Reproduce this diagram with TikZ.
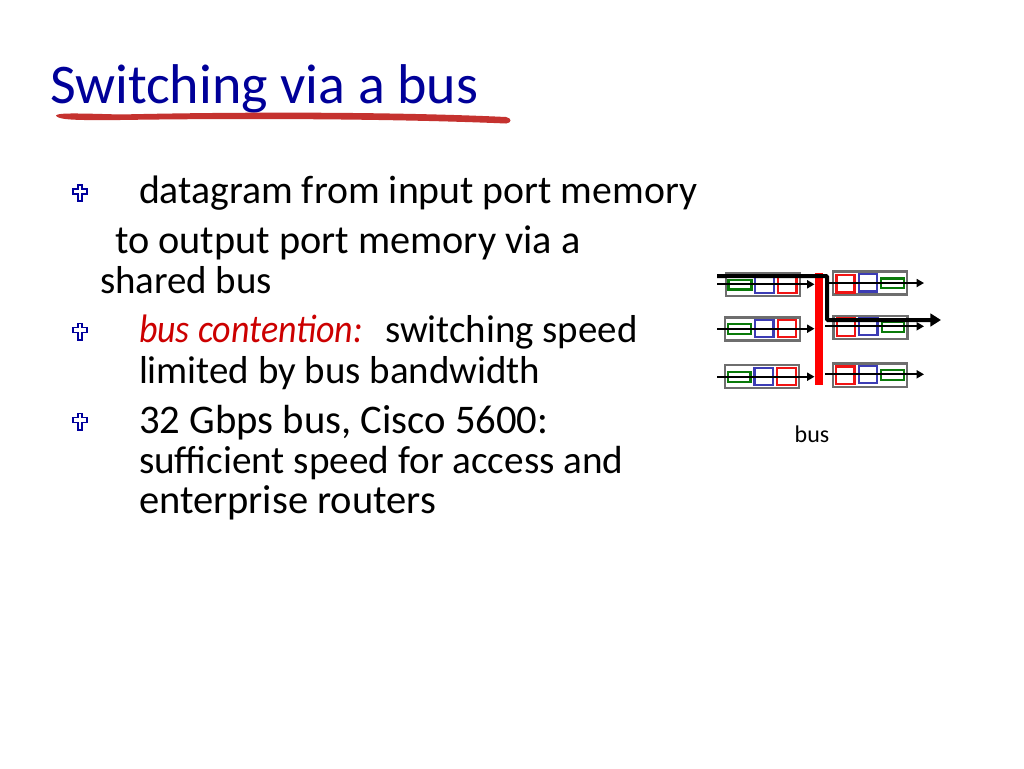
\documentclass[tikz,border=0pt]{standalone}
\usepackage{fontspec}
\setmainfont{Carlito}
\usetikzlibrary{arrows.meta}
\definecolor{titleblue}{HTML}{000099}
\definecolor{brush}{HTML}{C5322F}
\definecolor{boxgray}{HTML}{6E6E6E}
\definecolor{qgreen}{HTML}{0A7A0A}
\definecolor{qblue}{HTML}{3C3CB4}
\definecolor{qred}{HTML}{F01414}
\definecolor{busred}{HTML}{FF0000}
\definecolor{crossblue}{HTML}{00009C}
\definecolor{emred}{HTML}{CC0000}
\newfontfamily\emfont[FakeStretch=0.905]{Carlito}
\tikzset{
  x=0.75pt,y=-0.75pt,
  line/.style={anchor=base west,inner sep=0pt,outer sep=0pt,font=\fontsize{#1}{32}\selectfont},
  title/.style={anchor=base west,inner sep=0pt,outer sep=0pt,text=titleblue,font=\fontsize{42}{46}\selectfont},
  buslabel/.style={anchor=base,inner sep=0pt,font=\fontsize{18}{20}\selectfont},
  port/.style={draw=boxgray,line width=1.7pt,fill=white,inner sep=0pt,outer sep=0pt},
  gq/.style={draw=qgreen,line width=1.6pt,inner sep=0pt,outer sep=0pt},
  bq/.style={draw=qblue,line width=1.6pt,inner sep=0pt,outer sep=0pt},
  rq/.style={draw=qred,line width=1.6pt,inner sep=0pt,outer sep=0pt},
  busbar/.style={fill=busred,inner sep=0pt,outer sep=0pt},
  thin arrow/.style={draw=black,line width=1.25pt,-{Triangle[length=5.5pt,width=6pt]}},
  bold arrow/.style={draw=black,line width=3pt,-{Triangle[length=8pt,width=9.5pt]},rounded corners=0.75pt},
}
\newcommand{\rbox}[6]{%
  \pgfmathsetmacro{\cxx}{(#3+#5)/2}\pgfmathsetmacro{\cyy}{(#4+#6)/2}%
  \pgfmathsetmacro{\ww}{(#5-#3)*0.75-1.2}\pgfmathsetmacro{\hh}{(#6-#4)*0.75-1.2}%
  \node[#2,minimum width=\ww pt,minimum height=\hh pt] (#1) at (\cxx,\cyy) {};}
\newcommand{\crossbullet}[2]{%
  \begin{scope}[shift={(#1,#2)}]
  \filldraw[fill=white,draw=crossblue,line width=1.25pt,line join=miter]
    (-2.3,-8.4) -- (2.3,-8.4) -- (2.3,-4.5) -- (6.8,-4.5) -- (6.8,0.5) -- (2.3,0.5) -- (2.3,7.8) -- (-2.3,7.8) -- (-2.3,0.5) -- (-6.8,0.5) -- (-6.8,-4.5) -- (-2.3,-4.5) -- cycle;
  \end{scope}}
\begin{document}
\begin{tikzpicture}
\useasboundingbox (0,0) rectangle (1024,768);
\fill[white] (0,0) rectangle (1024,768);
\node[title] (ttl) at (50,103) {Switching via a bus};
\fill[brush] (56,115.5) .. controls (58,113) and (70,113) .. (120,114.5) .. controls (250,111.5) and (400,112) .. (506,117) .. controls (512,118) and (512,123) .. (506,123.5) .. controls (400,119) and (250,118) .. (120,120) .. controls (70,120.5) and (58,119.5) .. (56,115.5) -- cycle;
\crossbullet{80}{193.3}\crossbullet{80}{332}\crossbullet{80}{422}
\node[line=29.8] (l1) at (139,203) {datagram from input port memory};
\node[line=30.2] (l2) at (115,253) {to output port memory via a};
\node[line=29.2] (l3) at (100,293) {shared bus};
\node[line=29.8,text=emred] (l4a) at (139,342) {\emfont\itshape bus contention:};
\node[line=29.2] (l4b) at (385,342) {switching speed};
\node[line=29.2] (l5) at (139,383) {limited by bus bandwidth};
\node[line=30.5] (l6) at (139,433) {32 Gbps bus, Cisco 5600:};
\node[line=29.4] (l7) at (139,473) {sufficient speed for access and};
\node[line=30.4] (l8) at (139,513) {enterprise routers};
% input ports
\rbox{ip1}{port}{725}{272.3}{801}{296.7}
\rbox{ig1}{gq}{727.7}{279}{752.3}{290.3}
\rbox{ib1}{bq}{754.3}{275}{774.7}{293.7}
\rbox{ir1}{rq}{777.3}{275}{797.3}{293.7}
\rbox{ip2}{port}{724.3}{316.7}{800.7}{341.3}
\rbox{ig2}{gq}{727.3}{323.3}{752}{335}
\rbox{ib2}{bq}{754.3}{319}{774.3}{337.7}
\rbox{ir2}{rq}{777}{319}{797}{337.7}
\rbox{ip3}{port}{724}{364.3}{800}{389}
\rbox{ig3}{gq}{727}{371.3}{751.3}{382.7}
\rbox{ib3}{bq}{753.7}{367}{773.7}{386}
\rbox{ir3}{rq}{776.3}{367}{796.7}{386}
% output ports
\rbox{op1}{port}{832}{270.7}{908}{295.3}
\rbox{or1}{rq}{835.7}{274}{855.3}{293.3}
\rbox{ob1}{bq}{858}{273.3}{878}{292.3}
\rbox{og1}{gq}{880.3}{277.7}{904.7}{289}
\rbox{op2}{port}{832.7}{315}{908.3}{339.7}
\rbox{or2}{rq}{836}{317.3}{855.7}{336.7}
\rbox{ob2}{bq}{858.3}{317}{878.3}{336}
\rbox{og2}{gq}{881}{321.3}{905}{332.7}
\rbox{op3}{port}{832}{362.7}{908}{387.7}
\rbox{or3}{rq}{835.3}{365.7}{855.3}{385}
\rbox{ob3}{bq}{858}{365}{878}{384}
\rbox{og3}{gq}{880.3}{369.3}{904.7}{380.7}
% bus
\rbox{bus}{busbar}{813.7}{272.2}{823.3}{385.8}
% arrows ends
\coordinate (a1) at (717,284.3); \coordinate (a1e) at (bus.west |- a1);
\coordinate (a2) at (717,328.7); \coordinate (a2e) at (bus.west |- a2);
\coordinate (a3) at (717,376.7); \coordinate (a3e) at (bus.west |- a3);
\coordinate (b1) at (825,283); \coordinate (b1e) at (924,283);
\coordinate (b2) at (825,326.3); \coordinate (b2e) at (924,326.3);
\coordinate (b3) at (825,374.3); \coordinate (b3e) at (924,374.3);
\draw[thin arrow] (a1) -- (a1e);
\draw[thin arrow] (a2) -- (a2e);
\draw[thin arrow] (a3) -- (a3e);
\draw[thin arrow] (b1) -- (b1e);
\draw[thin arrow] (b2) -- (b2e);
\draw[thin arrow] (b3) -- (b3e);
\coordinate (p0) at (717,276); \coordinate (p1) at (827,276); \coordinate (p2) at (827,320); \coordinate (p3) at (941,320);
\draw[bold arrow] (p0) -- (p1) -- (p2) -- (p3);
\node[buslabel] (buslbl) at (812,442) {bus};
\end{tikzpicture}
\end{document}
